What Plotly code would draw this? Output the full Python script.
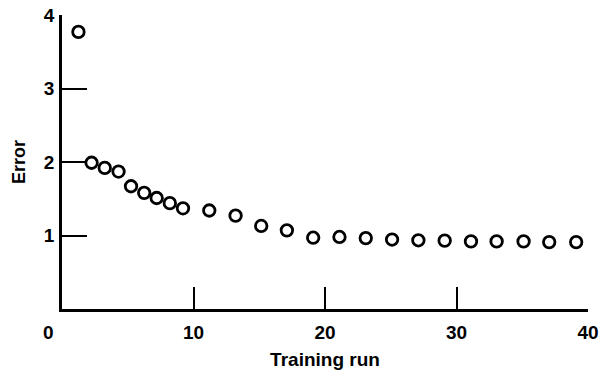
import plotly.graph_objects as go

# Data
training_run = [1.25, 2.25, 3.25, 4.3, 5.25, 6.25, 7.2, 8.2, 9.2,
                11.2, 13.2, 15.15, 17.1, 19.1, 21.1, 23.1, 25.1, 27.1,
                29.1, 31.1, 33.05, 35.1, 37.05, 39.1]
error = [3.77, 1.99, 1.92, 1.87, 1.67, 1.58, 1.51, 1.44, 1.37,
         1.34, 1.27, 1.13, 1.07, 0.97, 0.98, 0.965, 0.945, 0.935,
         0.93, 0.92, 0.92, 0.92, 0.91, 0.91]
x_ticks = [10, 20, 30, 40]
y_ticks = [1, 2, 3, 4]

FONT = "Liberation Sans, Arial, Helvetica, sans-serif"
FS = 19

fig = go.Figure()
fig.add_trace(go.Scatter(
    x=training_run, y=error, mode="markers",
    marker=dict(symbol="circle-open", size=11.5, color="black",
                line=dict(width=2.8, color="black")),
    cliponaxis=False, showlegend=False,
))

fig.update_layout(
    width=611, height=373,
    margin=dict(l=62, r=23, t=15, b=64, autoexpand=False),
    paper_bgcolor="white", plot_bgcolor="white",
    font=dict(family=FONT, size=FS, color="black", weight="bold"),
    xaxis=dict(
        range=[0, 40], tickvals=x_ticks, ticks="inside", ticklen=22,
        tickwidth=2, tickcolor="black", showline=True, linewidth=2.5,
        linecolor="black", showgrid=False, zeroline=False, automargin=False,
        ticklabelstandoff=4,
        tickfont=dict(family=FONT, size=FS, color="black", weight="bold"),
        title=dict(text="Training run", standoff=12,
                   font=dict(family=FONT, size=FS, color="black", weight="bold")),
    ),
    yaxis=dict(
        range=[0, 4], tickvals=y_ticks, ticks="inside", ticklen=25,
        tickwidth=2, tickcolor="black", showline=True, linewidth=2.8,
        linecolor="black", showgrid=False, zeroline=False, automargin=False,
        ticklabelstandoff=1,
        tickfont=dict(family=FONT, size=FS, color="black", weight="bold"),
        title=dict(text="Error", standoff=14,
                   font=dict(family=FONT, size=18, color="black", weight="bold")),
    ),
)

# The "0" origin label sits left of the y axis in the reference
fig.add_annotation(
    text="0", x=0, y=0, xref="x", yref="y", xanchor="center", yanchor="middle",
    xshift=-14, yshift=-23, showarrow=False,
    font=dict(family=FONT, size=FS, color="black", weight="bold"),
)

fig.write_html("out.html", config={"displayModeBar": False},
               post_script="document.body.style.margin='0px';")
